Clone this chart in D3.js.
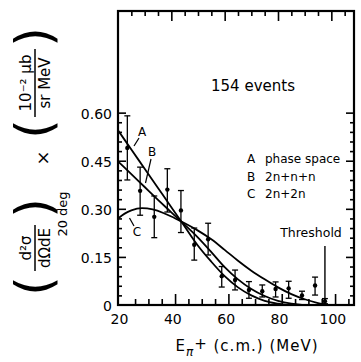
<!DOCTYPE html>
<html>
<head>
<meta charset="utf-8">
<script src="https://cdn.jsdelivr.net/npm/d3@7"></script>
<style>
body { margin: 0; background: #fff; }
svg { display: block; }
text { font-family: "DejaVu Sans", sans-serif; fill: #000; }
</style>
</head>
<body>
<div id="chart"></div>
<script>
// measured points (E pi+ in MeV, cross section)
var energy = [23.5, 28.3, 33.6, 38.5, 43.6, 48.6, 53.8, 58.9, 63.9, 69.1, 74.1, 79.1, 84.0, 89.0, 93.9, 97.6];
var sigma  = [0.49, 0.356, 0.275, 0.36, 0.295, 0.188, 0.205, 0.09, 0.078, 0.047, 0.043, 0.05, 0.052, 0.03, 0.061, 0.012];
var sigLo  = [0.39, 0.28, 0.21, 0.29, 0.226, 0.14, 0.156, 0.056, 0.047, 0.021, 0.025, 0.025, 0.021, 0.017, 0.031, 0.004];
var sigHi  = [0.59, 0.43, 0.34, 0.425, 0.357, 0.24, 0.255, 0.12, 0.109, 0.073, 0.0625, 0.072, 0.074, 0.043, 0.087, 0.02];

// model curves
var curveAx = [20, 25, 30, 35, 40, 43.6, 45, 50, 55, 60, 65, 70, 75, 80, 83];
var curveAy = [0.545, 0.485, 0.425, 0.365, 0.305, 0.262, 0.245, 0.185, 0.135, 0.09, 0.055, 0.03, 0.013, 0.004, 0];
var curveBx = [20, 25, 30, 35, 40, 43.6, 50, 55, 60, 65, 70, 75, 80, 85, 89];
var curveBy = [0.448, 0.408, 0.368, 0.328, 0.289, 0.261, 0.21, 0.165, 0.118, 0.08, 0.05, 0.028, 0.013, 0.004, 0];
var curveCx = [20, 22.5, 25, 29, 33, 37, 40, 43.6, 50, 55, 60, 65, 70, 75, 80, 85, 90, 95, 98];
var curveCy = [0.27, 0.285, 0.295, 0.302, 0.298, 0.287, 0.276, 0.261, 0.232, 0.205, 0.172, 0.138, 0.107, 0.08, 0.055, 0.034, 0.018, 0.006, 0];

var xLabels = [20, 40, 60, 80, 100];
var yLabels = [0, 0.15, 0.30, 0.45, 0.60];
var legendKeys = ["A", "B", "C"];
var legendNames = ["phase space", "2n+n+n", "2n+2n"];
var thresholdE = 97.6;

var width = 361,
    height = 362;

var svg = d3.select("#chart").append("svg")
    .attr("width", width)
    .attr("height", height);

var x = d3.scaleLinear().domain([20, 108.5]).range([118, 354]);
var y = d3.scaleLinear().domain([0, 0.917]).range([305, 11]);

// ticks
var topMinor = d3.range(25, 106, 5).filter(function(d) { return d % 20 != 0; });
var topMajor = [40, 60, 80, 100];
var botMinor = d3.range(21.4, 108, 5).filter(function(d, i) { return (i - 4) % 4 != 0; });
var botMajor = [41.4, 61.4, 81.4, 101.4];
var yMinor = d3.range(1, 21).map(function(i) { return i * 0.03; }).filter(function(d, i) { return (i + 1) % 5 != 0; });
var yMajor = [0.15, 0.30, 0.45, 0.60];

function ticks(axis, tr) {
    var g = svg.append("g").attr("transform", tr).call(axis);
    g.select(".domain").remove();
    g.selectAll(".tick line").attr("stroke", "#000").attr("stroke-width", 1.6);
    g.selectAll(".tick text").remove();
    return g;
}
ticks(d3.axisTop(x).tickValues(topMinor).tickSize(-5), "translate(0,11)");
ticks(d3.axisTop(x).tickValues(topMajor).tickSize(-10), "translate(0,11)");
ticks(d3.axisBottom(x).tickValues(botMinor).tickSize(-6), "translate(0,305)");
ticks(d3.axisBottom(x).tickValues(botMajor).tickSize(-11), "translate(0,305)");
ticks(d3.axisLeft(y).tickValues(yMinor).tickSize(-4), "translate(118,0)");
ticks(d3.axisLeft(y).tickValues(yMajor).tickSize(-8), "translate(118,0)");
ticks(d3.axisRight(y).tickValues(yMinor).tickSize(-4), "translate(354,0)");
ticks(d3.axisRight(y).tickValues(yMajor).tickSize(-8), "translate(354,0)");

// frame
svg.append("rect")
    .attr("x", 118).attr("y", 11)
    .attr("width", 354 - 118).attr("height", 305 - 11)
    .attr("fill", "none").attr("stroke", "#000").attr("stroke-width", 2.2);

// tick labels
var xl = svg.append("g").attr("transform", "translate(1,305)")
    .call(d3.axisBottom(x).tickValues(xLabels).tickSize(0).tickPadding(9));
xl.select(".domain").remove();
xl.selectAll("text").style("font-size", "14px").style("font-family", "DejaVu Sans");

var yl = svg.append("g").attr("transform", "translate(112,1)")
    .call(d3.axisLeft(y).tickValues(yLabels).tickSize(0).tickPadding(0)
        .tickFormat(function(d) { return d == 0 ? "0" : d3.format(".2f")(d); }));
yl.select(".domain").remove();
yl.selectAll("text").style("font-size", "14px").style("font-family", "DejaVu Sans");

// curves
var line = d3.line().curve(d3.curveMonotoneX)
    .x(function(d) { return x(d[0]); })
    .y(function(d) { return y(d[1]); });
[[curveAx, curveAy], [curveBx, curveBy], [curveCx, curveCy]].forEach(function(c) {
    svg.append("path")
        .datum(d3.zip(c[0], c[1]))
        .attr("d", line)
        .attr("fill", "none")
        .attr("stroke", "#000")
        .attr("stroke-width", 1.8);
});

// error bars
var pts = energy.map(function(e, i) { return {e: e, v: sigma[i], lo: sigLo[i], hi: sigHi[i]}; });
var eb = svg.append("g").attr("stroke", "#000").attr("stroke-width", 1.3);
eb.selectAll(".bar").data(pts).enter().append("line")
    .attr("x1", function(d) { return x(d.e); }).attr("x2", function(d) { return x(d.e); })
    .attr("y1", function(d) { return y(d.lo); }).attr("y2", function(d) { return y(d.hi); });
eb.selectAll(".capt").data(pts).enter().append("line")
    .attr("x1", function(d) { return x(d.e) - 3; }).attr("x2", function(d) { return x(d.e) + 3; })
    .attr("y1", function(d) { return y(d.hi); }).attr("y2", function(d) { return y(d.hi); });
eb.selectAll(".capb").data(pts).enter().append("line")
    .attr("x1", function(d) { return x(d.e) - 3; }).attr("x2", function(d) { return x(d.e) + 3; })
    .attr("y1", function(d) { return y(d.lo); }).attr("y2", function(d) { return y(d.lo); });
svg.selectAll(".dot").data(pts).enter().append("circle")
    .attr("cx", function(d) { return x(d.e); })
    .attr("cy", function(d) { return y(d.v); })
    .attr("r", 2.2).attr("fill", "#000");

// threshold
svg.append("line")
    .attr("x1", x(thresholdE)).attr("x2", x(thresholdE))
    .attr("y1", y(0)).attr("y2", y(0.184))
    .attr("stroke", "#000").attr("stroke-width", 1.4);
svg.append("text").attr("x", 311).attr("y", 237)
    .attr("text-anchor", "middle").style("font-size", "12.5px").text("Threshold");

// curve letters with pointers
svg.append("text").attr("x", 142).attr("y", 136).attr("text-anchor", "middle").style("font-size", "12px").text("A");
svg.append("line").attr("x1", 139).attr("y1", 138).attr("x2", 134).attr("y2", 146).attr("stroke", "#000").attr("stroke-width", 1.2);
svg.append("text").attr("x", 152).attr("y", 156).attr("text-anchor", "middle").style("font-size", "12px").text("B");
svg.append("line").attr("x1", 151).attr("y1", 159).attr("x2", 145.5).attr("y2", 183).attr("stroke", "#000").attr("stroke-width", 1.2);
svg.append("text").attr("x", 137).attr("y", 236).attr("text-anchor", "middle").style("font-size", "12px").text("C");
svg.append("line").attr("x1", 134).attr("y1", 226).attr("x2", 129.5).attr("y2", 218).attr("stroke", "#000").attr("stroke-width", 1.2);

// annotation and legend
svg.append("text").attr("x", 253).attr("y", 91).attr("text-anchor", "middle")
    .style("font-size", "15px").text("154 events");
legendKeys.forEach(function(k, i) {
    svg.append("text").attr("x", 247).attr("y", 163 + i * 17.5).style("font-size", "12px").text(k);
    svg.append("text").attr("x", 265).attr("y", 163 + i * 17.5).style("font-size", "12px").text(legendNames[i]);
});

// x title
var xt = svg.append("text").attr("x", 247).attr("y", 351).attr("text-anchor", "middle")
    .style("font-size", "15px").style("letter-spacing", "1px");
xt.append("tspan").text("E");
xt.append("tspan").attr("dy", 5).style("font-size", "12px").style("font-style", "italic").text("π");
xt.append("tspan").attr("dy", -7).text("+");
xt.append("tspan").attr("dy", 2).text(" (c.m.)   (MeV)");

// y title, rotated
var yt = svg.append("g").attr("transform", "rotate(-90)");
function rt(yc, xb, str, size) {
    return yt.append("text").attr("x", -yc).attr("y", xb).attr("text-anchor", "middle")
        .style("font-size", size + "px").text(str);
}
rt(286, 51, "(", 50);
rt(208, 51, ")", 50);
rt(248, 31, "d²σ", 15);
rt(248, 50, "dΩdE", 15);
yt.append("line").attr("x1", -271).attr("x2", -225).attr("y1", 35).attr("y2", 35)
    .attr("stroke", "#000").attr("stroke-width", 1.5);
rt(214, 67, "20 deg", 13);
rt(158, 49, "×", 18);
rt(129, 51, "(", 50);
rt(37, 51, ")", 50);
rt(83, 31, "10⁻² μb", 15);
rt(83, 50, "sr   MeV", 15);
yt.append("line").attr("x1", -117).attr("x2", -49).attr("y1", 35).attr("y2", 35)
    .attr("stroke", "#000").attr("stroke-width", 1.5);
</script>
</body>
</html>
